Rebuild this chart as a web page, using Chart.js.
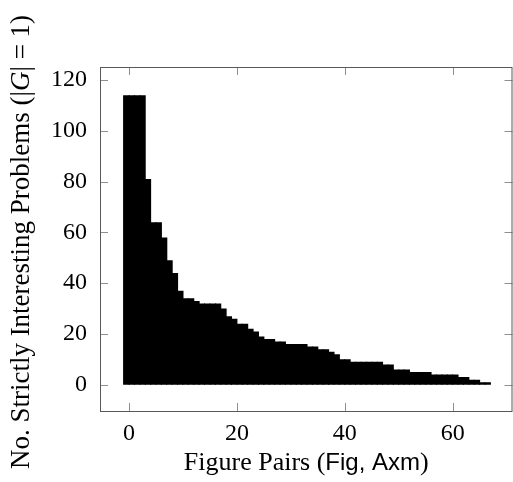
<!DOCTYPE html>
<html lang="en">
<head>
  <meta charset="UTF-8">
  <title>Strictly interesting problems per figure pair</title>
  <script src="https://cdn.jsdelivr.net/npm/chart.js@4.4.4/dist/chart.umd.min.js"></script>
  <style>
    html, body { margin: 0; padding: 0; background: #fff; }
    #wrap { width: 513px; height: 482px; }
  </style>
</head>
<body>
  <div id="wrap"><canvas id="chart-1" width="513" height="482"></canvas></div>
  <script>
    // number of strictly interesting problems per (Fig, Axm) pair, sorted descending
    const counts = [114, 114, 114, 114, 81, 64, 64, 58, 49, 44, 37, 34, 34, 33, 32, 32, 32, 32,
      30, 27, 26, 24, 24, 22, 21, 19, 18, 18, 17, 17, 16, 16, 16, 16, 15, 15, 14, 14, 13, 12,
      10, 10, 9, 9, 9, 9, 9, 9, 8, 8, 6, 6, 6, 5, 5, 5, 5, 4, 4, 4, 4, 4, 3, 3, 2, 2, 1, 1];
    const xTicks = [0, 20, 40, 60];
    const yTicks = [0, 20, 40, 60, 80, 100, 120];

    // pair i is drawn over the interval [i-1, i]
    const points = counts.map((v, i) => ({ x: i - 0.5, y: v }));

    const serif = "'Liberation Serif', 'Times New Roman', serif";
    const sans = "'Liberation Sans', Arial, sans-serif";

    function drawRuns(ctx, runs) {
      let w = 0;
      runs.forEach(r => { ctx.font = r.font; w += ctx.measureText(r.text).width; });
      let x = -w / 2;
      runs.forEach(r => {
        ctx.font = r.font;
        ctx.fillText(r.text, x, 0);
        x += ctx.measureText(r.text).width;
      });
    }

    const framePlugin = {
      id: 'frame',
      afterDraw(chart) {
        const { ctx, chartArea: a, scales } = chart;
        ctx.save();
        // inward tick marks on all four sides
        ctx.strokeStyle = '#8f8f8f';
        ctx.lineWidth = 1;
        const tl = 8;
        ctx.beginPath();
        xTicks.forEach(v => {
          const px = Math.round(scales.x.getPixelForValue(v)) + 0.5;
          ctx.moveTo(px, a.bottom); ctx.lineTo(px, a.bottom - tl);
          ctx.moveTo(px, a.top); ctx.lineTo(px, a.top + tl);
        });
        yTicks.forEach(v => {
          const py = Math.round(scales.y.getPixelForValue(v)) + 0.5;
          ctx.moveTo(a.left, py); ctx.lineTo(a.left + tl, py);
          ctx.moveTo(a.right, py); ctx.lineTo(a.right - tl, py);
        });
        ctx.stroke();
        // axis box
        ctx.strokeStyle = '#595959';
        ctx.strokeRect(a.left + 0.5, a.top + 0.5, a.right - a.left - 1, a.bottom - a.top);

        // axis titles
        ctx.fillStyle = '#000';
        ctx.textBaseline = 'middle';
        ctx.textAlign = 'left';
        const fs = 26;
        ctx.save();
        ctx.translate((a.left + a.right) / 2, 463);
        drawRuns(ctx, [
          { text: 'Figure Pairs (', font: fs + 'px ' + serif },
          { text: 'Fig, Axm', font: (fs - 2) + 'px ' + sans },
          { text: ')', font: fs + 'px ' + serif }
        ]);
        ctx.restore();

        ctx.save();
        ctx.translate(22, (a.top + a.bottom) / 2 + 3);
        ctx.rotate(-Math.PI / 2);
        drawRuns(ctx, [
          { text: 'No. Strictly Interesting Problems (|', font: (fs + 1) + 'px ' + serif },
          { text: 'G', font: 'italic ' + (fs + 1) + 'px ' + serif },
          { text: '| = 1)', font: (fs + 1) + 'px ' + serif }
        ]);
        ctx.restore();
        ctx.restore();
      }
    };

    new Chart(document.getElementById('chart-1'), {
      type: 'bar',
      data: {
        datasets: [{
          data: points,
          backgroundColor: '#000',
          borderWidth: 0,
          barPercentage: 1.2,
          categoryPercentage: 1
        }]
      },
      options: {
        responsive: false,
        animation: false,
        layout: { padding: { left: 0, right: 0.5, top: 67, bottom: 0 } },
        plugins: { legend: { display: false }, tooltip: { enabled: false } },
        scales: {
          x: {
            type: 'linear',
            min: -5.38,
            max: 71.1,
            offset: false,
            grid: { display: false },
            border: { display: false },
            afterBuildTicks: s => { s.ticks = xTicks.map(v => ({ value: v })); },
            afterFit: s => { s.height = 71; },
            ticks: { color: '#000', padding: 0, maxRotation: 0, font: { family: serif, size: 24 } }
          },
          y: {
            type: 'linear',
            min: -10.35,
            max: 125.1,
            grid: { display: false },
            border: { display: false },
            afterBuildTicks: s => { s.ticks = yTicks.map(v => ({ value: v })); },
            afterFit: s => { s.width = 100; },
            ticks: { color: '#000', padding: 5, font: { family: serif, size: 24 } }
          }
        }
      },
      plugins: [framePlugin]
    });
  </script>
</body>
</html>
